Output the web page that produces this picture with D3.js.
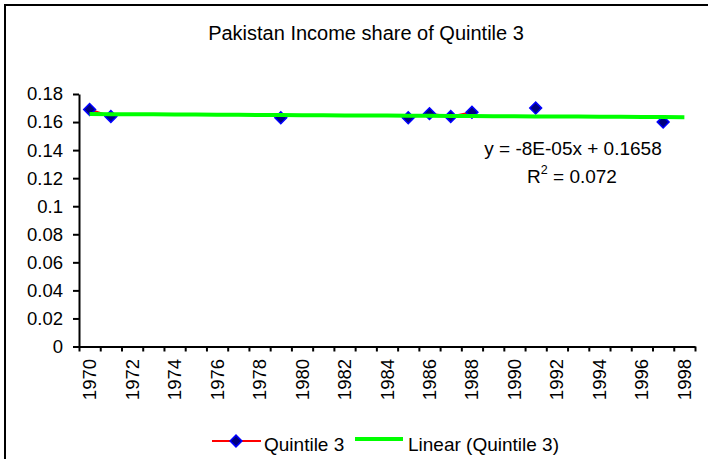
<!DOCTYPE html>
<html>
<head>
<meta charset="utf-8">
<script src="https://cdn.jsdelivr.net/npm/d3@7"></script>
<style>
  html, body { margin: 0; padding: 0; background: #fff; }
  svg { display: block; font-family: "Liberation Sans", Arial, sans-serif; }
</style>
</head>
<body>
<svg id="chart" width="708" height="459"></svg>
<script>
// Category axis: one slot per year, labels on every other year
const years = d3.range(1970, 1999);
const yearLabels = years.filter((y, i) => i % 2 === 0);

// Observed income share of the third quintile
const obsYears = [1970, 1971, 1979, 1985, 1986, 1987, 1988, 1991, 1997];
const obsValues = [0.169, 0.164, 0.163, 0.163, 0.166, 0.164, 0.167, 0.170, 0.160];

// Linear trend fitted on the category index (1 = 1970)
const trendSlope = -0.00008;
const trendIntercept = 0.1658;
const trendR2 = 0.072;

const yTicks = [0, 0.02, 0.04, 0.06, 0.08, 0.1, 0.12, 0.14, 0.16, 0.18];

const svg = d3.select("#chart");

// Outer chart frame
svg.append("rect")
  .attr("x", 5).attr("y", 5)
  .attr("width", 720).attr("height", 470)
  .attr("fill", "#fff").attr("stroke", "#000").attr("stroke-width", 2);

// Title
svg.append("text")
  .attr("x", 366).attr("y", 40)
  .attr("text-anchor", "middle")
  .attr("font-size", 20)
  .text("Pakistan Income share of Quintile 3");

const plotLeft = 79, plotRight = 695, plotTop = 94, plotBottom = 346.5;

// x: continuous index over category slots, slot i spans [i, i+1]
const x = d3.scaleLinear().domain([0, years.length]).range([plotLeft, plotRight]);
const y = d3.scaleLinear().domain([0, 0.18]).range([plotBottom, plotTop]);
const cx = yr => x(years.indexOf(yr) + 0.5);

// Y axis
const yAxis = svg.append("g")
  .attr("transform", `translate(${plotLeft},0)`)
  .call(d3.axisLeft(y).tickValues(yTicks).tickSize(6).tickSizeOuter(0).tickPadding(10)
    .tickFormat(d => d === 0 ? "0" : String(+d.toFixed(2))));
yAxis.select(".domain").attr("stroke-width", 2);
yAxis.selectAll(".tick line").attr("stroke-width", 2);
yAxis.selectAll("text").attr("font-size", 18.5).attr("fill", "#000")
  .attr("font-family", "Liberation Sans, Arial, sans-serif");

// X axis with ticks at slot boundaries
const xAxis = svg.append("g")
  .attr("transform", `translate(0,${plotBottom})`)
  .call(d3.axisBottom(x).tickValues(d3.range(0, years.length + 1))
    .tickSize(5).tickSizeOuter(0).tickFormat(""));
xAxis.select(".domain").attr("stroke-width", 2);
xAxis.selectAll(".tick line").attr("stroke-width", 2);

// Rotated year labels centred in their slots
svg.append("g").selectAll("text")
  .data(yearLabels)
  .join("text")
  .attr("transform", d => `translate(${cx(d) + 6.5},359) rotate(-90)`)
  .attr("text-anchor", "end")
  .attr("font-size", 18.5)
  .text(d => d);

// Series line: segments only between consecutive years with data
const segs = [];
for (let i = 1; i < obsYears.length; i++) {
  if (obsYears[i] - obsYears[i - 1] === 1) {
    segs.push([[obsYears[i - 1], obsValues[i - 1]], [obsYears[i], obsValues[i]]]);
  }
}
const line = d3.line().x(d => cx(d[0])).y(d => y(d[1]));
svg.append("g").selectAll("path")
  .data(segs)
  .join("path")
  .attr("d", line)
  .attr("fill", "none").attr("stroke", "#ff0000").attr("stroke-width", 2);

// Markers: squares turned 45°
const diamond = d3.symbol().type(d3.symbolSquare).size(70);
svg.append("g").selectAll("path")
  .data(obsYears.map((yr, i) => [yr, obsValues[i]]))
  .join("path")
  .attr("transform", d => `translate(${cx(d[0])},${y(d[1])}) rotate(45)`)
  .attr("d", diamond)
  .attr("fill", "#000080").attr("stroke", "#0000ff").attr("stroke-width", 1.5);

// Trend line across every category slot
const trendPts = years.map((yr, i) => [yr, trendSlope * (i + 1) + trendIntercept]);
svg.append("path")
  .datum(trendPts)
  .attr("d", line)
  .attr("fill", "none").attr("stroke", "#00ff00").attr("stroke-width", 4);

// Trend equation and R²
svg.append("text")
  .attr("x", 573).attr("y", 155)
  .attr("text-anchor", "middle").attr("font-size", 19)
  .text(`y = -8E-05x + ${trendIntercept}`);
const r2 = svg.append("text")
  .attr("x", 572).attr("y", 183)
  .attr("text-anchor", "middle").attr("font-size", 19);
r2.append("tspan").text("R");
r2.append("tspan").attr("font-size", 12.5).attr("dy", -9).text("2");
r2.append("tspan").attr("dy", 9).text(" = " + trendR2.toFixed(3));

// Legend
const lg = svg.append("g");
lg.append("line").attr("x1", 212).attr("x2", 261).attr("y1", 441).attr("y2", 441)
  .attr("stroke", "#ff0000").attr("stroke-width", 2);
lg.append("path").attr("transform", "translate(236,441) rotate(45)")
  .attr("d", diamond).attr("fill", "#000080").attr("stroke", "#0000ff").attr("stroke-width", 1.5);
lg.append("text").attr("x", 264).attr("y", 451).attr("font-size", 19).text("Quintile 3");
lg.append("line").attr("x1", 355).attr("x2", 403).attr("y1", 439).attr("y2", 439)
  .attr("stroke", "#00ff00").attr("stroke-width", 4);
lg.append("text").attr("x", 408).attr("y", 451).attr("font-size", 19).text("Linear (Quintile 3)");
</script>
</body>
</html>
